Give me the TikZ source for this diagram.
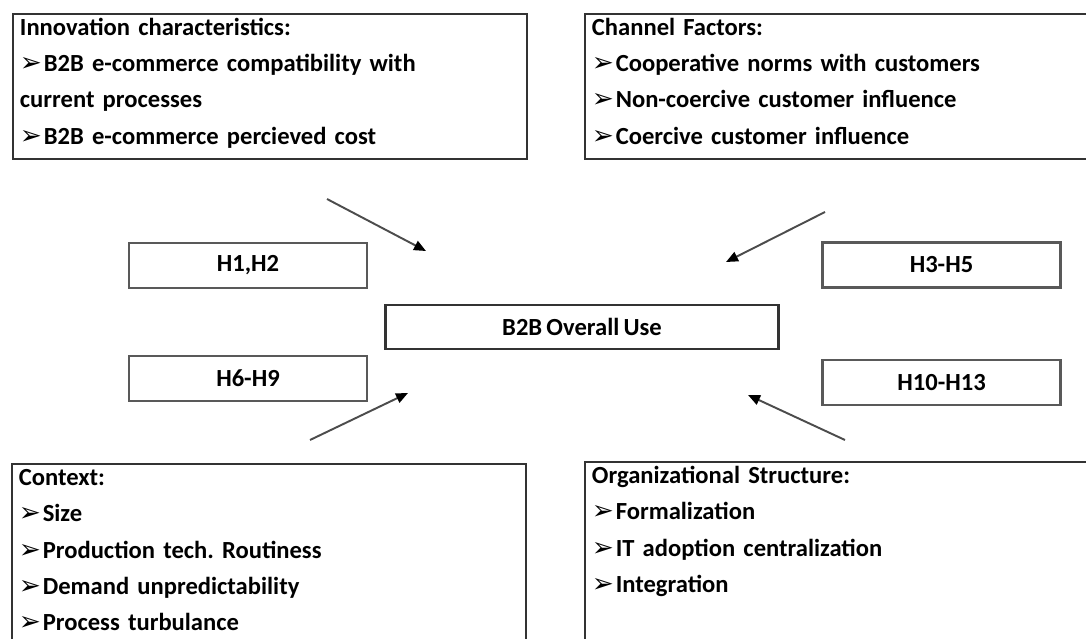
\documentclass[tikz,border=0pt]{standalone}
\usepackage{fontspec}
\setmainfont{Carlito}
\newfontfamily\bulletfont{DejaVu Sans}
\usetikzlibrary{arrows.meta}
\newcommand{\arrowbullet}{{\bulletfont\fontsize{15}{15}\selectfont\char"27A2}\hspace{1pt}}
\newcommand{\diagfont}{\fontsize{14}{20.5}\selectfont\bfseries\frenchspacing\spaceskip=2.4pt plus 0.7pt minus 0.4pt\relax}
\begin{document}
\begin{tikzpicture}[x=0.02cm,y=-0.02cm,font=\diagfont,
  factor/.style={draw=black!80, line width=1.1pt, anchor=north west, align=left, inner xsep=0.14cm, inner ysep=0.04cm, text height=0.4cm},
  hyp/.style={draw=black!65, line width=1.5pt, minimum width=4.76cm, minimum height=0.9cm},
  outcome/.style={draw=black!80, line width=1.3pt, minimum width=7.86cm, minimum height=0.88cm},
  flow/.style={draw=black!70, line width=1.1pt, -{Triangle[length=0.24cm,width=0.2cm,color=black]}}]
\useasboundingbox (0,0) rectangle (1086,639);
\node[factor, text width=10cm, text depth=2.42cm] (inno) at (12,13) {Innovation characteristics:\\\arrowbullet B2B e-commerce compatibility with\\current processes\\\arrowbullet B2B e-commerce percieved cost};
\node[factor, text width=10.04cm, text depth=2.42cm] (channel) at (584,13) {Channel Factors:\\\arrowbullet Cooperative norms with customers\\\arrowbullet Non-coercive customer influence\\\arrowbullet Coercive customer influence};
\node[factor, text width=10cm, text depth=3.86cm] (context) at (11,463) {Context:\\\arrowbullet Size\\\arrowbullet Production tech. Routiness\\\arrowbullet Demand unpredictability\\\arrowbullet Process turbulance};
\node[factor, text width=10.04cm, text depth=3.86cm] (org) at (584,461) {Organizational Structure:\\\arrowbullet Formalization\\\arrowbullet IT adoption centralization\\\arrowbullet Integration};
\node[outcome] (use) at (582,327) {B2B Overall Use};
\node[hyp] (h1) at (248,265.5) {H1,H2};
\node[hyp] (h3) at (941.5,265) {H3-H5};
\node[hyp] (h6) at (248,378.5) {H6-H9};
\node[hyp] (h10) at (941.5,382.5) {H10-H13};
\coordinate (inno-tail) at (327,199);
\coordinate (inno-tip) at (426,251);
\coordinate (channel-tail) at (825,212);
\coordinate (channel-tip) at (726,262);
\coordinate (context-tail) at (310,440);
\coordinate (context-tip) at (408,393);
\coordinate (org-tail) at (845,440);
\coordinate (org-tip) at (748,395);
\draw[flow] (inno-tail) -- (inno-tip);
\draw[flow] (channel-tail) -- (channel-tip);
\draw[flow] (context-tail) -- (context-tip);
\draw[flow] (org-tail) -- (org-tip);
\end{tikzpicture}
\end{document}
